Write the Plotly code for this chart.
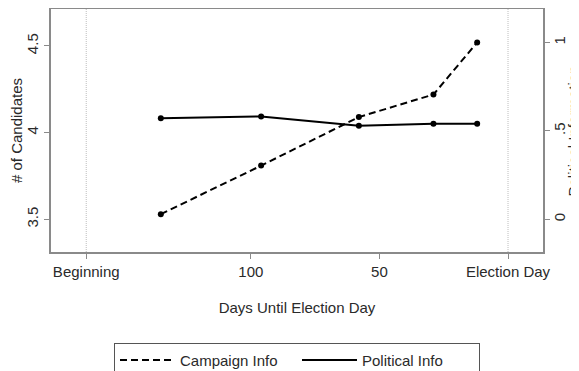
import plotly.graph_objects as go

# Data
days = [135, 96, 58, 29, 12]
campaign_info = [3.53, 3.81, 4.09, 4.22, 4.52]          # left axis: # of Candidates
political_info = [0.572, 0.582, 0.529, 0.54, 0.54]      # right axis: Political Information

x_tickvals = [164, 100, 50, 0]
x_ticktext = ["Beginning", "100", "50", "Election Day"]
y_tickvals = [3.5, 4, 4.5]
y_ticktext = ["3.5", "4", "4.5"]
y2_tickvals = [0, 0.5, 1]
y2_ticktext = ["0", ".5", "1"]
ref_lines = [164, 0]

FONT = "Liberation Sans, Arial, sans-serif"
TXT = "#2a2a2a"
AX = "#8a8a8a"
DASH = "7px,4px"

fig = go.Figure()
fig.add_trace(go.Scatter(
    x=days, y=campaign_info, name="Campaign Info", mode="lines+markers",
    line=dict(color="black", width=2, dash=DASH),
    marker=dict(color="black", size=6), yaxis="y", showlegend=False))
fig.add_trace(go.Scatter(
    x=days, y=political_info, name="Political Info", mode="lines+markers",
    line=dict(color="black", width=2),
    marker=dict(color="black", size=6), yaxis="y2", showlegend=False))
# legend-only entries (lines without markers, as in the reference legend)
fig.add_trace(go.Scatter(x=[None], y=[None], name="Campaign Info", mode="lines",
                         line=dict(color="black", width=2, dash=DASH)))
fig.add_trace(go.Scatter(x=[None], y=[None], name="Political Info", mode="lines",
                         line=dict(color="black", width=2)))

for v in ref_lines:
    fig.add_vline(x=v, line=dict(color="#bdbdbd", width=1, dash="1px,1px"), layer="below")

# right-axis title, placed as in the reference (partly past the right edge)
fig.add_annotation(text="Political Information", xref="paper", yref="paper",
                   x=1.063, y=0.5, xanchor="center", yanchor="middle",
                   textangle=-90, showarrow=False, font=dict(size=15, color=TXT))

# page body has an 8px margin, so margins are offset by -8px to land the plot where the reference has it
fig.update_layout(
    width=579, height=371,
    margin=dict(l=43, r=44, t=1, b=127, autoexpand=False),
    paper_bgcolor="white", plot_bgcolor="white",
    font=dict(family=FONT, size=15, color=TXT),
    showlegend=True,
    legend=dict(orientation="h", x=0.5, xanchor="center", y=-0.373, yanchor="top",
                bordercolor="#555", borderwidth=1, font=dict(size=15),
                itemwidth=55, entrywidth=112, tracegroupgap=0),
    xaxis=dict(range=[177.7, -13.6], tickvals=x_tickvals, ticktext=x_ticktext,
               automargin=False,
               showgrid=False, zeroline=False, showline=True, linecolor=AX, linewidth=1.5,
               mirror=True, ticks="outside", ticklen=5, tickcolor=AX,
               title=dict(text="Days Until Election Day", standoff=24, font=dict(size=15))),
    yaxis=dict(range=[3.312, 4.713], tickvals=y_tickvals, ticktext=y_ticktext,
               automargin=False,
               tickangle=-90, showgrid=False, zeroline=False, showline=True,
               linecolor=AX, linewidth=1.5, ticks="outside", ticklen=5, tickcolor=AX,
               title=dict(text="# of Candidates", standoff=4, font=dict(size=15))),
    yaxis2=dict(range=[-0.185, 1.19], tickvals=y2_tickvals, ticktext=y2_ticktext,
                automargin=False,
                overlaying="y", side="right", tickangle=-90, showgrid=False,
                zeroline=False, showline=True, linecolor=AX, linewidth=1.5,
                ticks="outside", ticklen=5, tickcolor=AX, ticklabelstandoff=-3),
)

fig.write_html("out.html")
